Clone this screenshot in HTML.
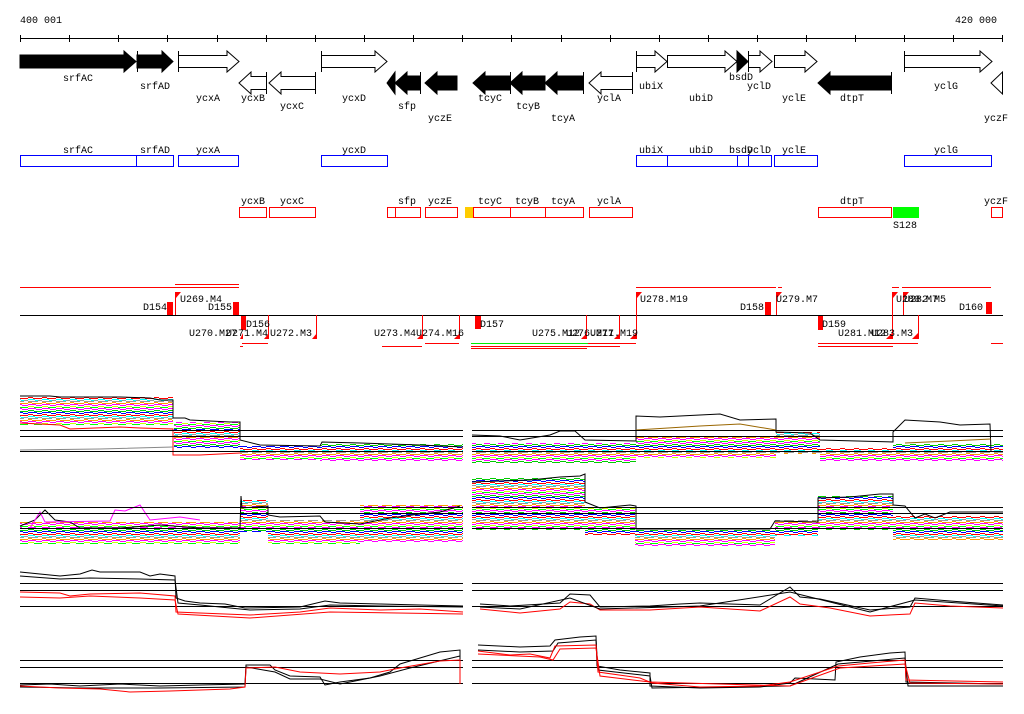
<!DOCTYPE html>
<html><head><meta charset="utf-8"><style>
html,body{margin:0;padding:0;background:#fff;}
svg{display:block;}
text{font-family:"Liberation Mono","DejaVu Sans Mono",monospace;font-size:10px;fill:#000;}
</style></head><body>
<svg width="1024" height="714" viewBox="0 0 1024 714" xmlns="http://www.w3.org/2000/svg">
<defs>
<pattern id="st" patternUnits="userSpaceOnUse" width="14" height="17">
<rect width="14" height="17" fill="#fff"/>
<rect x="0" y="0" width="8" height="1" fill="#f0f"/><rect x="8" y="1" width="6" height="1" fill="#f0f"/>
<rect x="0" y="2" width="6" height="1" fill="#0c0"/><rect x="6" y="3" width="8" height="1" fill="#0c0"/>
<rect x="0" y="4" width="9" height="1" fill="#00f"/><rect x="9" y="5" width="5" height="1" fill="#00f"/>
<rect x="0" y="6" width="5" height="1" fill="#f00"/><rect x="5" y="7" width="9" height="1" fill="#f00"/>
<rect x="0" y="8" width="7" height="1" fill="#0ff"/><rect x="7" y="9" width="7" height="1" fill="#0ff"/>
<rect x="0" y="10" width="10" height="1" fill="#999"/><rect x="10" y="9" width="4" height="1" fill="#999"/>
<rect x="0" y="11" width="4" height="1" fill="#f90"/><rect x="4" y="12" width="10" height="1" fill="#f90"/>
<rect x="0" y="13" width="8" height="1" fill="#f0f"/><rect x="8" y="14" width="6" height="1" fill="#f0f"/>
<rect x="0" y="15" width="6" height="1" fill="#cf0"/><rect x="6" y="16" width="8" height="1" fill="#0f0"/>
</pattern>
</defs>

<!-- ruler -->
<text x="20" y="23">400 001</text>
<text x="955" y="23">420 000</text>
<line x1="20" y1="38.5" x2="1003" y2="38.5" stroke="#000"/>
<g stroke="#000">
<line x1="20.5" y1="35" x2="20.5" y2="42"/><line x1="69.5" y1="35" x2="69.5" y2="42"/><line x1="118.5" y1="35" x2="118.5" y2="42"/><line x1="167.5" y1="35" x2="167.5" y2="42"/><line x1="217.5" y1="35" x2="217.5" y2="42"/><line x1="266.5" y1="35" x2="266.5" y2="42"/><line x1="315.5" y1="35" x2="315.5" y2="42"/><line x1="364.5" y1="35" x2="364.5" y2="42"/><line x1="413.5" y1="35" x2="413.5" y2="42"/><line x1="462.5" y1="35" x2="462.5" y2="42"/><line x1="511.5" y1="35" x2="511.5" y2="42"/><line x1="561.5" y1="35" x2="561.5" y2="42"/><line x1="610.5" y1="35" x2="610.5" y2="42"/><line x1="659.5" y1="35" x2="659.5" y2="42"/><line x1="708.5" y1="35" x2="708.5" y2="42"/><line x1="757.5" y1="35" x2="757.5" y2="42"/><line x1="806.5" y1="35" x2="806.5" y2="42"/><line x1="855.5" y1="35" x2="855.5" y2="42"/><line x1="904.5" y1="35" x2="904.5" y2="42"/><line x1="953.5" y1="35" x2="953.5" y2="42"/><line x1="1002.5" y1="35" x2="1002.5" y2="42"/>
</g>

<!-- genes forward -->
<g stroke="#000" stroke-width="1">
<polygon points="20,55 124,55 124,51 136,61.5 124,72 124,68 20,68" fill="#000"/>
<polygon points="137,55 162,55 162,51 173,61.5 162,72 162,68 137,68" fill="#000"/>
<line x1="137.5" y1="51" x2="137.5" y2="72"/>
<polygon points="178.5,55.5 227,55.5 227,51 239,61.5 227,72 227,67.5 178.5,67.5" fill="#fff"/>
<line x1="178.5" y1="51" x2="178.5" y2="72"/>
<polygon points="321.5,55.5 375,55.5 375,51 387,61.5 375,72 375,67.5 321.5,67.5" fill="#fff"/>
<line x1="321.5" y1="51" x2="321.5" y2="72"/>
<polygon points="636.5,55.5 655,55.5 655,51 667,61.5 655,72 655,67.5 636.5,67.5" fill="#fff"/>
<line x1="636.5" y1="51" x2="636.5" y2="72"/>
<polygon points="667.5,55.5 725,55.5 725,51 737,61.5 725,72 725,67.5 667.5,67.5" fill="#fff"/>
<polygon points="737,51 748,61.5 737,72" fill="#000"/>
<polygon points="748.5,55.5 760,55.5 760,51 772,61.5 760,72 760,67.5 748.5,67.5" fill="#fff"/>
<line x1="748.5" y1="51" x2="748.5" y2="72"/>
<polygon points="774.5,55.5 805,55.5 805,51 817,61.5 805,72 805,67.5 774.5,67.5" fill="#fff"/>
<polygon points="904.5,55.5 980,55.5 980,51 992,61.5 980,72 980,67.5 904.5,67.5" fill="#fff"/>
<line x1="904.5" y1="51" x2="904.5" y2="72"/>
<!-- reverse -->
<polygon points="239,83 251,72 251,76.5 266.5,76.5 266.5,89.5 251,89.5 251,94" fill="#fff"/>
<line x1="266.5" y1="72" x2="266.5" y2="94"/>
<polygon points="269,83 281,72 281,76.5 315.5,76.5 315.5,89.5 281,89.5 281,94" fill="#fff"/>
<line x1="315.5" y1="72" x2="315.5" y2="94"/>
<polygon points="387,83 395,72 395,94" fill="#000"/>
<polygon points="395,83 407,72 407,76 420,76 420,90 407,90 407,94" fill="#000"/>
<line x1="420.5" y1="72" x2="420.5" y2="94"/>
<polygon points="425,83 437,72 437,76 457,76 457,90 437,90 437,94" fill="#000"/>
<polygon points="473,83 485,72 485,76 510,76 510,90 485,90 485,94" fill="#000"/>
<polygon points="510,83 522,72 522,76 545,76 545,90 522,90 522,94" fill="#000"/>
<line x1="510.5" y1="72" x2="510.5" y2="94"/>
<polygon points="545,83 557,72 557,76 583,76 583,90 557,90 557,94" fill="#000"/>
<line x1="583.5" y1="72" x2="583.5" y2="94"/>
<polygon points="589,83 601,72 601,76.5 632.5,76.5 632.5,89.5 601,89.5 601,94" fill="#fff"/>
<line x1="632.5" y1="72" x2="632.5" y2="94"/>
<polygon points="818,83 830,72 830,76 891,76 891,90 830,90 830,94" fill="#000"/>
<line x1="891.5" y1="72" x2="891.5" y2="94"/>
<polygon points="991,83 1002.5,72 1002.5,94" fill="#fff"/>
</g>
<text x="63" y="81">srfAC</text><text x="140" y="89">srfAD</text><text x="196" y="101">ycxA</text>
<text x="241" y="101">ycxB</text><text x="280" y="109">ycxC</text><text x="342" y="101">ycxD</text>
<text x="398" y="109">sfp</text><text x="428" y="121">yczE</text><text x="478" y="101">tcyC</text>
<text x="516" y="109">tcyB</text><text x="551" y="121">tcyA</text><text x="597" y="101">yclA</text>
<text x="639" y="89">ubiX</text><text x="689" y="101">ubiD</text><text x="729" y="80">bsdD</text>
<text x="747" y="89">yclD</text><text x="782" y="101">yclE</text><text x="840" y="101">dtpT</text>
<text x="934" y="89">yclG</text><text x="984" y="121">yczF</text>

<!-- blue boxes -->
<g fill="none" stroke="#00f">
<rect x="20.5" y="155.5" width="116" height="11"/><rect x="136.5" y="155.5" width="37" height="11"/>
<rect x="178.5" y="155.5" width="60" height="11"/><rect x="321.5" y="155.5" width="66" height="11"/>
<rect x="636.5" y="155.5" width="31" height="11"/><rect x="667.5" y="155.5" width="70" height="11"/>
<rect x="737.5" y="155.5" width="11" height="11"/><rect x="748.5" y="155.5" width="23" height="11"/>
<rect x="774.5" y="155.5" width="43" height="11"/><rect x="904.5" y="155.5" width="87" height="11"/>
</g>
<text x="63" y="153">srfAC</text><text x="140" y="153">srfAD</text><text x="196" y="153">ycxA</text>
<text x="342" y="153">ycxD</text><text x="639" y="153">ubiX</text><text x="689" y="153">ubiD</text>
<text x="729" y="153">bsdD</text><text x="747" y="153">yclD</text><text x="782" y="153">yclE</text><text x="934" y="153">yclG</text>

<!-- red boxes -->
<g fill="none" stroke="#f00">
<rect x="239.5" y="207.5" width="27" height="10"/><rect x="269.5" y="207.5" width="46" height="10"/>
<rect x="387.5" y="207.5" width="8" height="10"/><rect x="395.5" y="207.5" width="25" height="10"/>
<rect x="425.5" y="207.5" width="32" height="10"/><rect x="473.5" y="207.5" width="37" height="10"/>
<rect x="510.5" y="207.5" width="35" height="10"/><rect x="545.5" y="207.5" width="38" height="10"/>
<rect x="589.5" y="207.5" width="43" height="10"/><rect x="818.5" y="207.5" width="73" height="10"/>
<rect x="991.5" y="207.5" width="11" height="10"/>
</g>
<rect x="465" y="207" width="8" height="11" fill="#fc0"/>
<rect x="893" y="207" width="26" height="11" fill="#0f0"/>
<text x="241" y="204">ycxB</text><text x="280" y="204">ycxC</text><text x="398" y="204">sfp</text>
<text x="428" y="204">yczE</text><text x="478" y="204">tcyC</text><text x="515" y="204">tcyB</text>
<text x="551" y="204">tcyA</text><text x="597" y="204">yclA</text><text x="840" y="204">dtpT</text>
<text x="984" y="204">yczF</text><text x="893" y="228">S128</text>

<!-- middle track -->
<line x1="20" y1="315.5" x2="1003" y2="315.5" stroke="#000"/>
<g stroke="#f00">
<line x1="20" y1="287.5" x2="239" y2="287.5"/><line x1="175" y1="284.5" x2="239" y2="284.5"/>
<line x1="636" y1="287.5" x2="776" y2="287.5"/><line x1="778" y1="287.5" x2="782" y2="287.5"/>
<line x1="892" y1="287.5" x2="899" y2="287.5"/><line x1="902" y1="287.5" x2="991" y2="287.5"/>
<line x1="242" y1="343.5" x2="268" y2="343.5"/><line x1="240" y1="346.5" x2="243" y2="346.5"/>
<line x1="425" y1="343.5" x2="459" y2="343.5"/><line x1="382" y1="346.5" x2="422" y2="346.5"/>
<line x1="588" y1="343.5" x2="636" y2="343.5"/><line x1="471" y1="346.5" x2="620" y2="346.5"/>
<line x1="471" y1="348.5" x2="587" y2="348.5"/>
<line x1="818" y1="343.5" x2="918" y2="343.5"/><line x1="818" y1="346.5" x2="893" y2="346.5"/>
<line x1="991" y1="343.5" x2="1003" y2="343.5"/>
<line x1="175.5" y1="292" x2="175.5" y2="315"/><line x1="172.5" y1="302" x2="172.5" y2="315"/>
<line x1="636.5" y1="292" x2="636.5" y2="339"/><line x1="776.5" y1="292" x2="776.5" y2="315"/>
<line x1="892.5" y1="292" x2="892.5" y2="339"/><line x1="903.5" y1="292" x2="903.5" y2="315"/>
<line x1="316.5" y1="315" x2="316.5" y2="339"/><line x1="268.5" y1="315" x2="268.5" y2="339"/>
<line x1="422.5" y1="315" x2="422.5" y2="339"/><line x1="459.5" y1="315" x2="459.5" y2="339"/>
<line x1="619.5" y1="315" x2="619.5" y2="339"/><line x1="586.5" y1="315" x2="586.5" y2="339"/>
<line x1="918.5" y1="315" x2="918.5" y2="339"/>
</g>
<line x1="471" y1="343.5" x2="588" y2="343.5" stroke="#0e0"/>
<g fill="#f00">
<polygon points="175,292 181,292 176,298"/><polygon points="636,292 642,292 637,298"/>
<polygon points="776,292 782,292 777,298"/><polygon points="892,292 898,292 893,298"/><polygon points="903,292 909,292 904,298"/>
<rect x="167" y="302" width="6" height="13"/><rect x="233" y="302" width="6" height="13"/>
<rect x="765" y="302" width="6" height="13"/><rect x="986" y="302" width="6" height="12"/>
<rect x="241" y="316" width="5" height="14"/><rect x="475" y="316" width="6" height="13"/><rect x="818" y="316" width="5" height="14"/>
<polygon points="240,339 243,333 243,339"/><polygon points="264,339 269,333 269,339"/><polygon points="312,339 317,333 317,339"/>
<polygon points="417,339 423,333 423,339"/><polygon points="454,339 460,333 460,339"/>
<polygon points="581,339 587,333 587,339"/><polygon points="614,339 620,333 620,339"/><polygon points="630,339 636,333 636,339"/>
<polygon points="886,339 892,333 892,339"/><polygon points="912,339 918,333 918,339"/>
</g>
<text x="180" y="302">U269.M4</text><text x="143" y="310">D154</text><text x="208" y="310">D155</text>
<text x="246" y="327">D156</text><text x="189" y="336">U270.M27</text><text x="226" y="336">U271.M4</text>
<text x="270" y="336">U272.M3</text><text x="374" y="336">U273.M4</text><text x="416" y="336">U274.M16</text>
<text x="480" y="327">D157</text><text x="532" y="336">U275.M12</text><text x="566" y="336">U276.M11</text><text x="590" y="336">U277.M19</text>
<text x="640" y="302">U278.M19</text><text x="740" y="310">D158</text><text x="776" y="302">U279.M7</text>
<text x="822" y="327">D159</text><text x="838" y="336">U281.M12</text><text x="871" y="336">U283.M3</text>
<text x="896" y="302">U280.M7</text><text x="904" y="302">U282.M5</text><text x="959" y="310">D160</text>

<!-- panel 1 -->
<g>
<rect x="20" y="397" width="153" height="28" fill="url(#st)"/>
<rect x="174" y="422" width="66" height="26" fill="url(#st)"/>
<rect x="240" y="446" width="80" height="14" fill="url(#st)"/>
<rect x="320" y="444" width="143" height="17" fill="url(#st)"/>
<rect x="472" y="443" width="164" height="20" fill="url(#st)"/>
<rect x="636" y="436" width="140" height="22" fill="url(#st)"/>
<rect x="776" y="432" width="44" height="22" fill="url(#st)"/>
<rect x="820" y="448" width="73" height="13" fill="url(#st)"/>
<rect x="893" y="444" width="110" height="17" fill="url(#st)"/>
</g>
<g fill="none" stroke-width="1">
<polyline stroke="#000" points="20,396 50,396 60,397 120,397 150,398 160,400 173,400 173,418 185,418 190,420 210,421 230,422 240,422 240,440 260,445 320,446 322,442 360,443 390,444 420,445 463,447"/>
<polyline stroke="#f00" points="20,423 60,425 70,429 120,427 140,428 173,429 173,455 200,455 240,453"/>
<polyline stroke="#888" points="20,450 100,449 173,447"/>
<polyline stroke="#000" points="472,435 500,436 520,440 550,435 560,431 575,431 585,440 636,441 636,416 660,417 700,415 720,414 740,420 776,419 776,432 810,433 820,440 893,442 893,432 905,420 940,422 960,425 990,424 991,452"/>
<polyline stroke="#960" points="636,430 700,426 740,424 776,430"/>
<polyline stroke="#960" points="905,443 950,441 991,439"/>
<line x1="20" y1="430.5" x2="463" y2="430.5" stroke="#000"/><line x1="20" y1="436.5" x2="463" y2="436.5" stroke="#000"/><line x1="20" y1="451.5" x2="463" y2="451.5" stroke="#000"/>
<line x1="472" y1="430.5" x2="1003" y2="430.5" stroke="#000"/><line x1="472" y1="436.5" x2="1003" y2="436.5" stroke="#000"/><line x1="472" y1="451.5" x2="1003" y2="451.5" stroke="#000"/>
</g>

<!-- panel 2 -->
<g>
<rect x="20" y="522" width="220" height="22" fill="url(#st)"/>
<rect x="240" y="500" width="28" height="32" fill="url(#st)"/>
<rect x="268" y="520" width="92" height="24" fill="url(#st)"/>
<rect x="360" y="505" width="103" height="37" fill="url(#st)"/>
<rect x="472" y="478" width="113" height="52" fill="url(#st)"/>
<rect x="585" y="508" width="50" height="27" fill="url(#st)"/>
<rect x="635" y="530" width="140" height="16" fill="url(#st)"/>
<rect x="775" y="520" width="43" height="16" fill="url(#st)"/>
<rect x="818" y="496" width="75" height="34" fill="url(#st)"/>
<rect x="893" y="516" width="110" height="24" fill="url(#st)"/>
</g>
<g fill="none">
<polyline stroke="#000" points="20,526 35,520 45,510 55,520 70,522 80,528 120,528 160,525 200,528 240,528 241,496 242,508 268,506 268,515 280,517 320,516 325,522 360,524 390,518 420,514 440,512 460,506"/>
<polyline stroke="#f0f" points="30,528 40,512 45,522 110,521 115,510 125,511 140,505 150,520 180,517 200,520"/>
<polyline stroke="#000" points="472,482 500,481 530,480 560,477 580,476 585,474 585,502 600,508 630,505 636,506 636,529 770,529 775,521 818,522 818,498 850,497 880,494 893,494 893,505 905,506 915,518 925,514 935,518 950,512 1003,512"/>
<line x1="20" y1="507.5" x2="463" y2="507.5" stroke="#000"/><line x1="20" y1="513.5" x2="463" y2="513.5" stroke="#000"/><line x1="20" y1="528.5" x2="463" y2="528.5" stroke="#000"/>
<line x1="472" y1="507.5" x2="1003" y2="507.5" stroke="#000"/><line x1="472" y1="513.5" x2="1003" y2="513.5" stroke="#000"/><line x1="472" y1="528.5" x2="1003" y2="528.5" stroke="#000"/>
</g>

<!-- panel 3 -->
<g fill="none">
<line x1="20" y1="583.5" x2="463" y2="583.5" stroke="#000"/><line x1="20" y1="590.5" x2="463" y2="590.5" stroke="#000"/><line x1="20" y1="606.5" x2="463" y2="606.5" stroke="#000"/>
<line x1="472" y1="583.5" x2="1003" y2="583.5" stroke="#000"/><line x1="472" y1="590.5" x2="1003" y2="590.5" stroke="#000"/><line x1="472" y1="606.5" x2="1003" y2="606.5" stroke="#000"/>
<polyline stroke="#000" points="20,572 40,574 60,576 80,574 92,570 100,572 140,572 150,576 160,574 175,576 176,598 185,601 200,603 225,604 245,608 300,607 325,601 340,603 380,604 420,605 463,606"/>
<polyline stroke="#000" points="20,576 60,579 90,578 140,579 175,580 178,603 200,605 250,610 300,609 330,605 380,606 463,607"/>
<polyline stroke="#f00" points="20,592 60,593 70,596 90,594 140,593 175,596 176,612 200,613 250,615 300,612 330,608 380,610 420,609 463,612"/>
<polyline stroke="#f00" points="20,597 60,598 90,596 140,598 175,600 178,614 250,618 330,612 463,614"/>
<polyline stroke="#000" points="480,604 510,606 560,603 570,594 590,595 600,607 650,606 680,604 700,603 760,605 790,587 800,597 820,599 870,610 910,607 915,598 950,601 1003,605"/>
<polyline stroke="#f00" points="480,609 520,613 560,609 570,602 590,604 600,610 650,610 700,607 760,611 790,597 800,604 830,608 870,616 910,614 915,603 950,606 1003,608"/>
<polyline stroke="#000" points="480,607 520,609 570,598 600,609 700,606 790,592 870,612 915,600 1003,606"/>
</g>

<!-- panel 4 -->
<g fill="none">
<line x1="20" y1="660.5" x2="463" y2="660.5" stroke="#000"/><line x1="20" y1="667.5" x2="463" y2="667.5" stroke="#000"/><line x1="20" y1="683.5" x2="463" y2="683.5" stroke="#000"/>
<line x1="472" y1="660.5" x2="1003" y2="660.5" stroke="#000"/><line x1="472" y1="667.5" x2="1003" y2="667.5" stroke="#000"/><line x1="472" y1="683.5" x2="1003" y2="683.5" stroke="#000"/>
<polyline stroke="#000" points="20,685 50,684 80,686 120,684 160,686 200,685 245,684 246,665 270,665 275,670 290,676 320,677 325,685 340,682 370,678 390,672 400,664 420,658 440,652 460,650 460,684"/>
<polyline stroke="#000" points="20,687 80,688 160,688 245,687 246,667 275,672 290,679 320,679 340,684 380,676 410,668 460,656"/>
<polyline stroke="#f00" points="20,686 60,688 100,689 130,692 170,691 230,689 245,687 246,668 275,667 300,672 340,674 360,673 380,672 400,668 440,661 460,660 460,684"/>
<polyline stroke="#000" points="478,645 520,647 550,646 555,640 580,637 596,636 597,666 620,670 650,673 650,686 700,688 760,687 790,683 795,678 835,680 836,662 860,657 890,653 905,652 906,682 1003,684"/>
<polyline stroke="#000" points="478,650 520,652 553,651 558,643 596,640 598,670 650,676 652,688 790,686 838,664 905,658 908,686 1003,686"/>
<polyline stroke="#f00" points="478,651 510,655 530,654 550,658 555,646 596,645 598,672 640,678 652,683 700,687 760,686 790,682 838,666 870,663 905,660 906,680 1003,682"/>
<polyline stroke="#f00" points="478,654 540,657 553,660 560,649 596,648 600,676 650,682 790,686 840,668 905,664 910,683 1003,684"/>
</g>
</svg>
</body></html>
